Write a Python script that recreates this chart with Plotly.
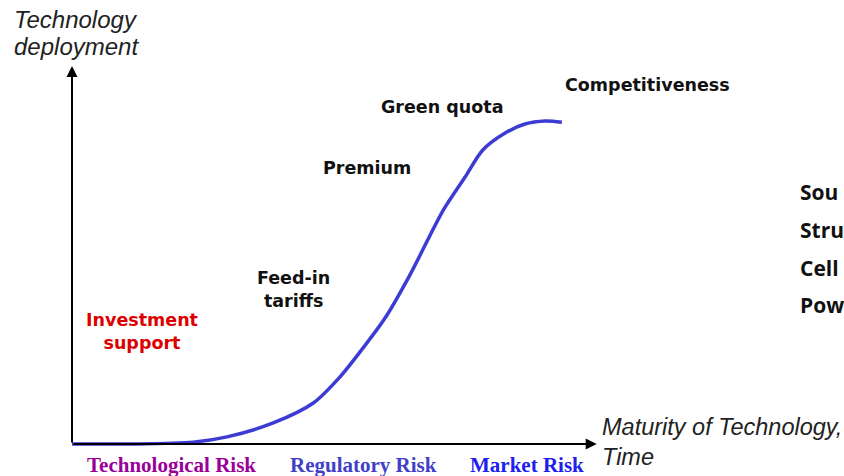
import plotly.graph_objects as go

# S-curve: maturity of technology (x) vs technology deployment (y), arbitrary units 0-100
maturity = [0, 11.2, 23.3, 29.8, 38.7, 46.4, 51.5, 55.4, 60.2, 65.0, 71.4, 75.6, 79.0, 83.3, 87.1, 91.0, 94.2]
deployment = [0, 0, 0.5, 1.9, 5.6, 10.9, 17.8, 24.5, 33.5, 45.0, 62.2, 71.0, 78.2, 82.7, 85.1, 85.9, 85.6]

stage_labels = ["Investment<br>support", "Feed-in<br>tariffs", "Premium", "Green quota", "Competitiveness"]
risk_labels = ["Technological Risk", "Regulatory Risk", "Market Risk"]
risk_colors = ["#990099", "#4040c8", "#2020ee"]
y_title_lines = ["Technology", "deployment"]
x_title_lines = ["Maturity of Technology,", "Time"]
side_text = ["Sou", "Stru", "Cell", "Pow"]

W, H = 844, 476
X_RANGE = [-72 / 5.2, (W - 72) / 5.2]
Y_RANGE = [-(H - 444) / 3.76, 444 / 3.76]

fig = go.Figure()
fig.add_trace(go.Scatter(
    x=maturity, y=deployment, mode="lines",
    line=dict(color="#3c3cd4", width=3.5, shape="spline", smoothing=0.8),
    hoverinfo="skip", showlegend=False,
))

def px(x):
    return x / W

def py(y):
    return 1 - y / H

ann = []
# axes with arrows
ann.append(dict(x=100.9, y=0, ax=0, ay=0, xref="x", yref="y", axref="x", ayref="y",
                showarrow=True, arrowhead=2, arrowsize=1.1, arrowwidth=2, arrowcolor="black", text=""))
ann.append(dict(x=0, y=100.5, ax=0, ay=0, xref="x", yref="y", axref="x", ayref="y",
                showarrow=True, arrowhead=2, arrowsize=1.1, arrowwidth=2, arrowcolor="black", text=""))

italic = dict(family="Liberation Sans, Arial, sans-serif", size=24, color="#222222")
for t, y in zip(y_title_lines, [20, 47]):
    ann.append(dict(text="<i>" + t + "</i>", x=px(12), y=py(y), xref="paper", yref="paper",
                    xanchor="left", yanchor="middle", showarrow=False, font=italic))
for t, y in zip(x_title_lines, [427, 457]):
    ann.append(dict(text="<i>" + t + "</i>", x=px(600), y=py(y), xref="paper", yref="paper",
                    xanchor="left", yanchor="middle", showarrow=False, font=dict(italic, size=23.5)))

bold = dict(family="DejaVu Sans, sans-serif", size=17.5, color="#111111")
stage_pos = [(142, 331, "center", "#dd0000"), (293, 289, "center", "#111111"), (367, 168, "center", "#111111"),
             (442, 107, "center", "#111111"), (563, 85, "left", "#111111")]
for lab, (x, y, xa, c) in zip(stage_labels, stage_pos):
    ann.append(dict(text="<b>" + lab + "</b>", x=px(x), y=py(y), xref="paper", yref="paper",
                    xanchor=xa, yanchor="middle", align="center", showarrow=False,
                    font=dict(bold, color=c)))

risk_x = [171, 363, 527]
for lab, x, c in zip(risk_labels, risk_x, risk_colors):
    ann.append(dict(text="<b>" + lab + "</b>", x=px(x), y=py(465), xref="paper", yref="paper",
                    xanchor="center", yanchor="middle", showarrow=False,
                    font=dict(family="Liberation Serif, Times New Roman, serif", size=21, color=c)))

side_y = [192, 230, 268, 305]
for t, y in zip(side_text, side_y):
    ann.append(dict(text="<b>" + t + "</b>", x=px(798), y=py(y), xref="paper", yref="paper",
                    xanchor="left", yanchor="middle", showarrow=False,
                    font=dict(family="Open Sans, sans-serif", size=21, color="#111111")))

fig.update_layout(
    width=W, height=H, margin=dict(l=0, r=0, t=0, b=0),
    paper_bgcolor="white", plot_bgcolor="white",
    xaxis=dict(range=X_RANGE, visible=False, fixedrange=True),
    yaxis=dict(range=Y_RANGE, visible=False, fixedrange=True),
    annotations=ann, showlegend=False,
)
fig.write_html("out.html", config={"displayModeBar": False},
               post_script="document.body.style.margin='0';document.body.style.overflow='hidden';")
